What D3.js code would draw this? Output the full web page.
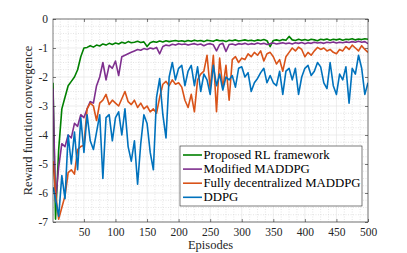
<!DOCTYPE html>
<html lang="en">
<head>
<meta charset="UTF-8">
<title>Reward function convergence</title>
<style>
    body { margin: 0; background: #fff; }
    svg text { font-family: "Liberation Serif", "Times New Roman", "DejaVu Serif", serif; }
</style>
</head>
<body>
<div id="chart"></div>
<script src="https://d3js.org/d3.v7.min.js"></script>
<script>
// episodes sampled every 5 (first one is episode 1)
const episodes = [1].concat(d3.range(5, 501, 5));

const proposed = [
    -2.2, -6.9, -4.5, -3.1, -2.7, -2.3, -2.15, -2.0, -1.75, -1.3,
    -1.0, -0.98, -0.92, -0.97, -0.9, -0.93, -0.86, -0.9, -0.84, -0.88,
    -0.83, -0.86, -0.8, -0.84, -0.78, -0.82, -0.8, -0.77, -0.81, -0.79,
    -0.95, -0.82, -0.78, -0.8, -0.76, -0.79, -0.75, -0.78, -0.76, -0.74,
    -0.77, -0.75, -0.78, -0.74, -0.77, -0.73, -0.76, -0.74, -0.78, -0.73,
    -0.75, -0.77, -0.72, -0.75, -0.74, -0.78, -0.73, -0.75, -0.72, -0.76,
    -0.74, -0.72, -0.75, -0.73, -0.76, -0.72, -0.74, -0.71, -0.75, -0.95,
    -0.74, -0.72, -0.75, -0.71, -0.73, -0.6, -0.72, -0.74, -0.7, -0.73,
    -0.71, -0.74, -0.7, -0.72, -0.75, -0.7, -0.72, -0.69, -0.73, -0.7,
    -0.72, -0.69, -0.73, -0.7, -0.71, -0.68, -0.72, -0.69, -0.71, -0.68,
    -0.7
];

const modified = [
    -2.4, -6.3, -5.1, -4.3, -4.4, -4.0, -4.1, -3.6, -3.7, -3.3,
    -3.4, -3.1, -2.85, -2.9, -2.3, -2.0, -1.5, -2.1, -1.6, -1.7,
    -1.45, -1.95, -1.3, -1.25, -1.2, -1.15, -1.1, -1.05, -1.08, -1.02,
    -1.05, -1.0, -1.03, -0.98, -1.2, -0.95, -0.9, -0.92, -0.87, -0.9,
    -0.85, -0.88, -0.86, -0.9, -0.87, -0.85, -0.89, -0.86, -0.92, -0.87,
    -0.85, -0.89, -1.1, -0.88, -0.84, -1.12, -0.88, -0.86, -0.9, -0.85,
    -0.87, -0.84, -0.88, -0.85, -0.87, -0.83, -0.86, -0.84, -0.88, -0.85,
    -0.83, -0.86, -0.84, -0.82, -0.85, -0.83, -0.86, -0.82, -0.84, -0.81,
    -0.85, -0.82, -0.84, -0.8, -0.83, -0.81, -0.84, -0.8, -0.82, -0.79,
    -0.83, -0.8, -0.82, -0.79, -0.81, -0.78, -0.8, -0.77, -0.8, -0.78,
    -0.85
];

const decentralized = [
    -4.9, -6.0, -6.9, -6.5, -6.1, -5.3, -5.2, -5.35, -4.5, -4.4,
    -4.35, -3.1, -2.9, -3.0, -3.5, -2.9, -2.8, -2.6, -2.95, -2.8,
    -2.9, -3.0, -2.75, -2.5, -2.85, -2.95, -2.8, -3.05, -2.9, -3.1,
    -3.0, -3.2, -3.1, -3.25, -2.7, -2.25, -2.15, -2.3, -2.1, -2.25,
    -2.2, -2.35, -2.8, -3.05, -2.6, -3.2, -2.1, -1.9, -1.8, -1.25,
    -2.4, -1.25, -3.2, -1.35, -2.4, -1.6, -2.8, -1.4, -1.3, -1.5,
    -1.35, -1.4, -1.2, -1.3, -1.15, -1.25, -1.1, -1.45, -1.2, -1.15,
    -1.3, -1.55, -1.4, -1.8, -1.3, -1.15, -1.0, -1.1, -0.97, -1.05,
    -1.3, -1.15, -1.25, -1.1, -0.98, -1.05, -1.0, -1.1, -1.05, -1.15,
    -1.2, -1.05, -1.1, -0.95, -1.05, -0.9, -1.0, -1.1, -0.92, -1.05,
    -1.15
];

const ddpg = [
    -5.8, -6.2, -6.8, -5.4, -6.2, -4.0, -5.0, -3.9, -5.2, -3.4,
    -4.6, -3.3, -4.2, -4.5, -3.9, -3.3, -5.5, -3.4, -3.3, -4.2,
    -3.4, -3.2, -4.0, -3.1, -4.4, -4.9, -4.2, -5.7, -4.3, -3.3,
    -3.6, -4.6, -5.2, -2.7, -2.05, -3.3, -4.1, -2.0, -1.5, -2.1,
    -1.7, -1.6, -2.3, -1.8, -1.6, -2.3, -1.65, -2.5, -1.9, -2.1,
    -2.6, -1.6, -2.3, -1.9, -2.45, -2.0, -2.1, -1.95, -2.35, -1.7,
    -1.65, -2.0, -1.85, -2.5, -2.2, -2.05, -1.85, -1.7, -2.2, -1.95,
    -2.2, -2.3, -1.8, -2.6, -1.8, -1.7, -2.1, -1.7, -2.6, -2.0,
    -1.7, -1.6, -1.95, -1.8, -1.5, -1.65, -2.2, -2.4, -1.5, -2.3,
    -2.6, -1.9, -2.1, -1.65, -2.9, -1.7, -1.9, -1.25, -1.7, -2.6,
    -2.2
];

const seriesNames = ["Proposed RL framework", "Modified MADDPG", "Fully decentralized MADDPG", "DDPG"];
const seriesValues = [proposed, modified, decentralized, ddpg];
const seriesColors = ["#008000", "#7E2F8E", "#D95319", "#0072BD"];

const xTicks = [50, 100, 150, 200, 250, 300, 350, 400, 450, 500];
const yTicks = [-7, -6, -5, -4, -3, -2, -1, 0];

const W = 407, H = 253;
const margin = { top: 19, right: 39, bottom: 31, left: 53 };
const width = W - margin.left - margin.right;
const height = H - margin.top - margin.bottom;
const serif = '"Liberation Serif", "Times New Roman", "DejaVu Serif", serif';

const svg = d3.select("#chart").append("svg")
    .attr("width", W)
    .attr("height", H)
    .attr("font-family", serif);

const g = svg.append("g")
    .attr("transform", `translate(${margin.left},${margin.top})`);

const x = d3.scaleLinear().domain([1, 500]).range([0, width]);
const y = d3.scaleLinear().domain([-7, 0]).range([height, 0]);

// minor grid (every 12.5 episodes, every 0.25 reward)
const xMinor = d3.range(12.5, 500, 12.5).filter(v => v % 50 !== 0);
const yMinor = d3.range(-7, 0, 0.25).filter(v => v % 1 !== 0);

g.append("g").selectAll("line")
    .data(xMinor).join("line")
    .attr("x1", d => x(d)).attr("x2", d => x(d))
    .attr("y1", 0).attr("y2", height)
    .attr("stroke", "#d4d4d4").attr("stroke-width", 0.6)
    .attr("stroke-dasharray", "1,1.5");

g.append("g").selectAll("line")
    .data(yMinor).join("line")
    .attr("x1", 0).attr("x2", width)
    .attr("y1", d => y(d)).attr("y2", d => y(d))
    .attr("stroke", "#d4d4d4").attr("stroke-width", 0.6)
    .attr("stroke-dasharray", "1,1.5");

// major grid
g.append("g").selectAll("line")
    .data(xTicks).join("line")
    .attr("x1", d => x(d)).attr("x2", d => x(d))
    .attr("y1", 0).attr("y2", height)
    .attr("stroke", "#e0e0e0").attr("stroke-width", 0.6);

g.append("g").selectAll("line")
    .data(yTicks).join("line")
    .attr("x1", 0).attr("x2", width)
    .attr("y1", d => y(d)).attr("y2", d => y(d))
    .attr("stroke", "#e0e0e0").attr("stroke-width", 0.6);

// lines
g.append("clipPath").attr("id", "clip")
    .append("rect").attr("width", width).attr("height", height);

const line = d3.line()
    .x((d, i) => x(episodes[i]))
    .y(d => y(d));

g.append("g").attr("clip-path", "url(#clip)")
    .selectAll("path")
    .data(seriesValues).join("path")
    .attr("fill", "none")
    .attr("stroke", (d, i) => seriesColors[i])
    .attr("stroke-width", 1.6)
    .attr("stroke-linejoin", "round")
    .attr("d", line);

// axes (box, ticks pointing inward)
const axisColor = "#262626";
const tickLen = 3;

g.append("rect")
    .attr("width", width).attr("height", height)
    .attr("fill", "none").attr("stroke", axisColor).attr("stroke-width", 0.6);

const axBottom = g.append("g")
    .attr("transform", `translate(0,${height})`)
    .call(d3.axisBottom(x).tickValues(xTicks).tickSize(-tickLen).tickPadding(6));
const axTop = g.append("g")
    .call(d3.axisTop(x).tickValues(xTicks).tickSize(-tickLen).tickFormat(""));
const axLeft = g.append("g")
    .call(d3.axisLeft(y).tickValues(yTicks).tickSize(-tickLen).tickPadding(5).tickFormat(d => d === 0 ? "0" : "-" + Math.abs(d)));
const axRight = g.append("g")
    .attr("transform", `translate(${width},0)`)
    .call(d3.axisRight(y).tickValues(yTicks).tickSize(-tickLen).tickFormat(""));

[axBottom, axTop, axLeft, axRight].forEach(a => {
    a.select(".domain").remove();
    a.attr("font-family", serif).attr("font-size", 11.5);
    a.selectAll(".tick line").attr("stroke", axisColor).attr("stroke-width", 0.6);
    a.selectAll(".tick text").attr("fill", axisColor);
});

// axis labels
g.append("text")
    .attr("font-size", 12.5)
    .attr("fill", axisColor)
    .attr("text-anchor", "middle")
    .attr("x", width / 2)
    .attr("y", height + 27)
    .text("Episodes");

g.append("text")
    .attr("font-size", 12.5)
    .attr("fill", axisColor)
    .attr("text-anchor", "middle")
    .attr("transform", "rotate(-90)")
    .attr("x", -height / 2)
    .attr("y", -21)
    .text("Reward function convergence");

// legend
const legend = svg.append("g").attr("transform", "translate(180,146)");
legend.append("rect")
    .attr("width", 182).attr("height", 60)
    .attr("fill", "#fff").attr("stroke", axisColor).attr("stroke-width", 0.6);

const rows = legend.selectAll("g.row")
    .data(seriesNames).join("g")
    .attr("class", "row")
    .attr("transform", (d, i) => `translate(0,${9 + i * 14.1})`);

rows.append("line")
    .attr("x1", 3).attr("x2", 22)
    .attr("stroke", (d, i) => seriesColors[i])
    .attr("stroke-width", 1.6);

rows.append("text")
    .attr("font-size", 12.8)
    .attr("fill", "#000")
    .attr("x", 23.5)
    .attr("dy", "0.32em")
    .text(d => d);
</script>
</body>
</html>
